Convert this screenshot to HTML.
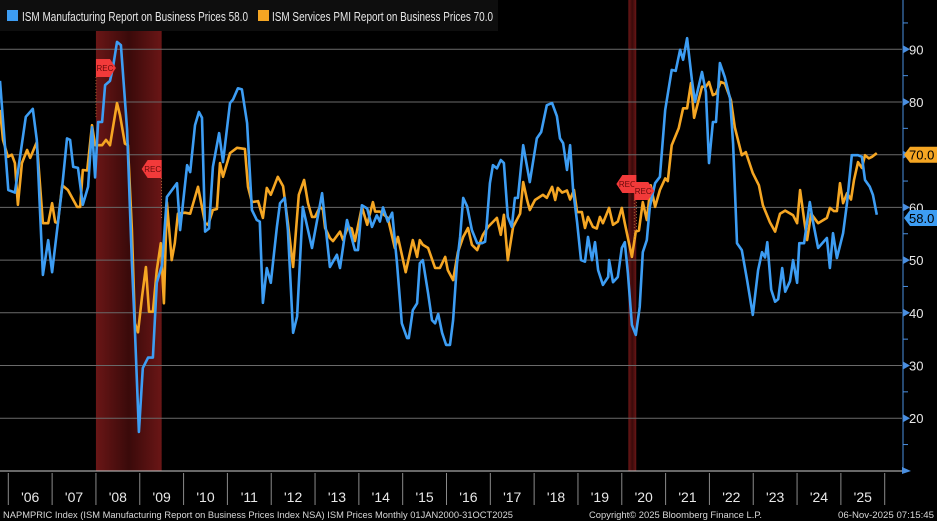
<!DOCTYPE html>
<html><head><meta charset="utf-8"><style>
html,body{margin:0;padding:0;background:#000;width:937px;height:521px;overflow:hidden;font-family:"Liberation Sans",sans-serif}
svg text{font-family:"Liberation Sans",sans-serif}
</style></head><body>
<svg id="chart" width="937" height="521" viewBox="0 0 937 521" xmlns="http://www.w3.org/2000/svg">
<defs>
<linearGradient id="recg" x1="0" x2="1" y1="0" y2="0">
<stop offset="0" stop-color="#6a1616"/><stop offset="0.5" stop-color="#3a0a0a"/><stop offset="1" stop-color="#6a1616"/>
</linearGradient>
</defs>
<g id="rec-layer"></g>
<g id="grid-layer"></g>
<g id="series-layer"></g>
<g id="axis-layer"></g>
<g>
<rect x="0" y="0" width="498" height="31" fill="#0e0e0e"/>
<rect x="7" y="10" width="11" height="11" fill="#3d9df3"/>
<text x="22" y="21" fill="#e8e8e8" font-size="13" textLength="226" lengthAdjust="spacingAndGlyphs">ISM Manufacturing Report on Business Prices 58.0</text>
<rect x="258" y="10" width="11" height="11" fill="#f5a623"/>
<text x="272" y="21" fill="#e8e8e8" font-size="13" textLength="221" lengthAdjust="spacingAndGlyphs">ISM Services PMI Report on Business Prices 70.0</text>
</g>
<text x="3" y="518" fill="#d8d8d8" font-size="9.5" textLength="510" lengthAdjust="spacingAndGlyphs">NAPMPRIC Index (ISM Manufacturing Report on Business Prices Index NSA) ISM Prices Monthly 01JAN2000-31OCT2025</text>
<text x="589" y="518" fill="#d8d8d8" font-size="9.5" textLength="173" lengthAdjust="spacingAndGlyphs">Copyright© 2025 Bloomberg Finance L.P.</text>
<text x="838" y="518" fill="#d8d8d8" font-size="9.5" textLength="96" lengthAdjust="spacingAndGlyphs">06-Nov-2025 07:15:45</text>
</svg>
<script>
const yTicks=[20,30,40,50,60,70,80,90];
const yearLabels=["'06","'07","'08","'09","'10","'11","'12","'13","'14","'15","'16","'17","'18","'19","'20","'21","'22","'23","'24","'25"];
const recessionStarts=[2008.0,2020.15];
const recessionEnds=[2009.5,2020.33];
const mfgDates=[2005.81,2006.0,2006.15,2006.40,2006.56,2006.65,2006.79,2006.91,2007.0,2007.23,2007.34,2007.41,2007.48,2007.59,2007.70,2007.82,2007.91,2007.98,2008.05,2008.14,2008.21,2008.32,2008.39,2008.48,2008.57,2008.71,2008.82,2008.89,2008.98,2009.07,2009.19,2009.30,2009.39,2009.51,2009.62,2009.85,2009.92,2010.08,2010.15,2010.26,2010.35,2010.42,2010.49,2010.58,2010.67,2010.81,2010.90,2011.06,2011.13,2011.24,2011.33,2011.45,2011.56,2011.67,2011.74,2011.81,2011.90,2011.99,2012.13,2012.20,2012.31,2012.38,2012.50,2012.59,2012.72,2012.93,2013.16,2013.34,2013.50,2013.57,2013.73,2013.91,2013.98,2014.07,2014.19,2014.30,2014.41,2014.48,2014.55,2014.66,2014.76,2014.87,2014.98,2015.10,2015.14,2015.23,2015.33,2015.39,2015.46,2015.58,2015.67,2015.74,2015.81,2015.90,2015.99,2016.08,2016.15,2016.24,2016.31,2016.38,2016.47,2016.58,2016.70,2016.81,2016.88,2016.92,2016.99,2017.06,2017.15,2017.24,2017.31,2017.40,2017.49,2017.56,2017.63,2017.75,2017.90,2018.06,2018.16,2018.29,2018.41,2018.52,2018.59,2018.66,2018.75,2018.82,2018.89,2018.98,2019.07,2019.16,2019.23,2019.32,2019.39,2019.46,2019.57,2019.69,2019.71,2019.80,2019.91,2020.00,2020.07,2020.14,2020.23,2020.32,2020.41,2020.48,2020.57,2020.64,2020.76,2020.87,2020.99,2021.14,2021.23,2021.33,2021.40,2021.49,2021.60,2021.67,2021.83,2021.92,2021.99,2022.08,2022.15,2022.24,2022.35,2022.47,2022.54,2022.63,2022.74,2022.86,2022.99,2023.11,2023.20,2023.27,2023.32,2023.41,2023.50,2023.57,2023.66,2023.73,2023.84,2023.91,2024.00,2024.05,2024.16,2024.29,2024.36,2024.48,2024.68,2024.75,2024.82,2024.91,2025.05,2025.14,2025.25,2025.39,2025.48,2025.55,2025.66,2025.73,2025.82];
const mfgValues=[84,63.3,62.8,77.2,78.7,72.8,47.2,53.8,47.7,63.9,73.1,72.8,67.7,67.5,60.5,63.9,75.2,65.7,76.2,76.2,83.2,84,86.6,91.4,90.8,74.7,49.5,36.8,17.4,29.5,31.5,31.5,45.7,49.1,62,64.6,55.7,68,66.7,75.6,78.1,77,55.4,56,67.7,74.1,68.6,79.8,80.5,82.6,82.4,76,59.5,57.6,57.3,41.9,48.5,45.7,56.3,60.8,61.8,55.7,36.2,39.3,60.1,52.3,62.7,48.7,51,48.5,57.6,51.9,51.9,60.4,59.8,56.3,58.5,57.3,60,57.3,59,49.4,38,35.2,35.2,40.5,41.8,49.4,50,43.7,38.6,38,39.8,36.2,33.9,33.9,38.6,49.4,54.4,61.8,60.2,55.7,53.2,53.2,53.5,57,64.6,68,67.4,69,68.4,58.2,56.3,61.8,61.8,71.8,64.8,73.1,74.3,79.4,79.8,77.3,73.1,72.2,67.1,71.8,63.3,57.2,50,49.7,54.4,50,53.4,48.1,45.3,46.8,50,45.8,46.8,52.3,53.4,47.5,37.7,35.8,41.1,51.5,53.8,60.1,64.6,65.8,78.5,86.1,85.9,89.9,88,92.1,84.2,80,85.7,81.9,68.4,76.2,76.2,87.4,84.7,80.7,72.1,53.2,51.9,46.2,39.6,48.1,51.5,50.5,53.4,44.4,42.1,42.6,48.5,44,46,50,45.7,53.2,53.2,61,57.5,52.3,54.2,48.5,55.1,50.4,55.1,60.8,69.9,69.9,69.6,65.2,63.9,62.4,58.6];
const svcDates=[2005.81,2005.88,2005.99,2006.08,2006.15,2006.22,2006.31,2006.43,2006.50,2006.65,2006.79,2006.91,2007.00,2007.07,2007.13,2007.23,2007.36,2007.57,2007.64,2007.70,2007.80,2007.91,2007.98,2008.14,2008.23,2008.32,2008.48,2008.55,2008.66,2008.73,2008.82,2008.89,2008.96,2009.05,2009.14,2009.21,2009.30,2009.39,2009.48,2009.55,2009.62,2009.73,2009.80,2009.87,2010.03,2010.15,2010.33,2010.49,2010.56,2010.67,2010.76,2010.83,2010.90,2011.06,2011.22,2011.40,2011.47,2011.56,2011.70,2011.81,2011.90,2011.99,2012.15,2012.27,2012.38,2012.50,2012.63,2012.75,2012.84,2012.93,2013.00,2013.11,2013.18,2013.23,2013.34,2013.41,2013.57,2013.64,2013.75,2013.84,2013.91,2014.07,2014.19,2014.32,2014.37,2014.48,2014.66,2014.82,2014.89,2015.07,2015.17,2015.23,2015.33,2015.39,2015.46,2015.58,2015.74,2015.85,2015.97,2016.03,2016.15,2016.26,2016.38,2016.49,2016.58,2016.70,2016.83,2016.95,2017.15,2017.24,2017.31,2017.40,2017.52,2017.68,2017.75,2017.84,2017.90,2018.02,2018.20,2018.29,2018.41,2018.48,2018.54,2018.64,2018.75,2018.82,2018.91,2018.98,2019.09,2019.16,2019.23,2019.34,2019.43,2019.50,2019.57,2019.71,2019.80,2019.91,2020.00,2020.07,2020.23,2020.32,2020.39,2020.48,2020.57,2020.66,2020.76,2020.87,2020.99,2021.05,2021.14,2021.30,2021.40,2021.49,2021.58,2021.65,2021.83,2021.92,2021.99,2022.08,2022.15,2022.26,2022.35,2022.49,2022.58,2022.74,2022.83,2022.99,2023.13,2023.22,2023.38,2023.50,2023.61,2023.73,2023.91,2024.00,2024.07,2024.16,2024.23,2024.32,2024.48,2024.68,2024.75,2024.84,2024.91,2024.98,2025.05,2025.14,2025.23,2025.30,2025.39,2025.48,2025.55,2025.64,2025.71,2025.82];
const svcValues=[78.5,72.8,69.6,70,68.4,60.5,68.4,70.9,69.4,72.4,57,57,60.8,57.2,57,64.2,63.3,60.1,60.1,67.1,67,75.6,71.8,71.8,72.8,71.8,79.8,77.5,72.1,71.8,55.7,38,36.3,43,48.7,40.2,40.2,48.1,53.2,41.8,61,50,53.2,58.8,59,58.8,63.9,57,56.7,59.5,59.7,68.4,65.8,70.3,71.3,71.1,63.9,61,61.2,58,63.7,62.4,65.8,64,57,48.7,62.4,65.2,60.8,58.2,58.2,60.1,59.6,56.1,54.2,53.6,55.4,53.8,56.3,56,53.6,60.1,56.7,61,59.2,59.2,58,52.3,54.4,47.7,51.5,53.8,50.6,53.8,52.9,52.3,48.5,48.5,50.6,48.1,46.2,51.5,54.4,56.1,52.9,51.9,54.8,56.3,58,54.8,58.6,50,56.3,58.8,64.8,61.4,59.5,61.4,62.4,61.8,63.9,61.4,63.7,62.8,63.2,61.5,63.3,59.1,59.1,56.1,58.2,56.3,56,58.2,57,59.9,56.7,57.3,59.9,57,50.6,55.4,55.6,61,57.6,64.2,60.1,63.3,65.5,65,71.8,75,78.8,78.8,83.6,77,82.9,82.9,83.8,81.3,81.6,83.8,83.5,80.4,75.2,69.9,70.5,66.5,64.2,60.4,57.2,55.4,58.8,59.4,58.5,57,63.3,57.7,53.8,58.8,57,58,59.9,59.3,59.3,64.6,60.8,62.7,61.5,65.2,68.6,67.5,69.9,69.3,69.6,70.3];

const NS='http://www.w3.org/2000/svg';
const X0=8.3, YW=43.82, PR=902, AXY=471;
function xScale(t){return X0+(t-2006)*YW;}
function yScale(v){return 49.3+(90-v)*5.27;}
function mk(tag,attrs,parent){const e=document.createElementNS(NS,tag);for(const k in attrs)e.setAttribute(k,attrs[k]);parent.appendChild(e);return e;}
const recL=document.getElementById('rec-layer'),gridL=document.getElementById('grid-layer'),serL=document.getElementById('series-layer'),axL=document.getElementById('axis-layer');

recessionStarts.forEach((s,i)=>{
  const r=mk('rect',{x:xScale(s),y:0,width:xScale(recessionEnds[i])-xScale(s),height:AXY,fill:'url(#recg)'},recL);
  
  
});
yTicks.forEach(v=>{
  const l=mk('line',{x1:0,x2:PR,y1:yScale(v),y2:yScale(v),stroke:'#6a6a6a','stroke-width':1},gridL);
  
  
});
function drawLine(dates,vals,color,name){
  const d=dates.map((t,i)=>(i?'L':'M')+xScale(t).toFixed(1)+','+yScale(vals[i]).toFixed(1)).join('');
  const p=mk('path',{d:d,fill:'none',stroke:color,'stroke-width':2.6,'stroke-linejoin':'round'},serL);
  
  
}
drawLine(svcDates,svcValues,'#f5a623','services-prices-line');
drawLine(mfgDates,mfgValues,'#3d9df3','manufacturing-prices-line');

function recTag(x,y,dir){
  const g=mk('g',{},serL);
  
  
  const pts=dir>0?`${x},${y} ${x+14},${y} ${x+20},${y+9} ${x+14},${y+18} ${x},${y+18}`:`${x},${y} ${x-14},${y} ${x-20},${y+9} ${x-14},${y+18} ${x},${y+18}`;
  mk('polygon',{points:pts,fill:'#f23a3a'},g);
  mk('line',{x1:x,x2:x,y1:y+18,y2:y+60,stroke:'#c08040','stroke-width':0.7,'stroke-dasharray':'1,2'},g);
  const t=mk('text',{x:dir>0?x+9:x-9,y:y+12,'font-size':8,fill:'#6a0a0a','text-anchor':'middle'},g);
  t.textContent='REC';
}
recTag(xScale(recessionStarts[0]),59,1);
recTag(xScale(recessionEnds[0]),160,-1);
recTag(xScale(recessionStarts[1])+8,175,-1);
recTag(xScale(recessionEnds[1])-2,182,1);

mk('line',{x1:0,x2:PR,y1:AXY,y2:AXY,stroke:'#cfcfcf','stroke-width':1},axL);
mk('polygon',{points:`${PR},${AXY-4} ${PR+9},${AXY} ${PR},${AXY+3}`,fill:'#4a8fe0'},axL);
for(let i=0;i<=yearLabels.length;i++){
  const x=xScale(2006+i);
  const s=mk('line',{x1:x,x2:x,y1:AXY+2,y2:505,stroke:'#8a8a8a','stroke-width':1},axL);
  
  
}
yearLabels.forEach((lab,i)=>{
  const t=mk('text',{x:xScale(2006.5+i),y:502,fill:'#e8e8e8','font-size':14,'text-anchor':'middle'},axL);
  
  
  t.textContent=lab;
});
mk('line',{x1:PR+1,x2:PR+1,y1:0,y2:AXY,stroke:'#4a8fe0','stroke-width':1},axL);
for(let v=15;v<=95;v+=5){
  const major=yTicks.includes(v);
  if(major){mk('polygon',{points:`${PR+1},${yScale(v)-4} ${PR+8},${yScale(v)} ${PR+1},${yScale(v)+4}`,fill:'#4a8fe0'},axL);}
  else mk('line',{x1:PR+1,x2:PR+6,y1:yScale(v),y2:yScale(v),stroke:'#4a8fe0'},axL);
}
yTicks.forEach(v=>{
  const t=mk('text',{x:909,y:yScale(v)+5,fill:'#e8e8e8','font-size':13},axL);
  
  
  t.textContent=v;
});
function valueTag(v,color,name){
  const y=yScale(v);
  const g=mk('g',{},axL);
  
  
  mk('polygon',{points:`${PR+2},${y} ${PR+8},${y-8} 937,${y-8} 937,${y+8} ${PR+8},${y+8}`,fill:color},g);
  const t=mk('text',{x:909,y:y+5,fill:'#000','font-size':13},g);
  t.textContent=v.toFixed(1);
}
valueTag(svcValues[svcValues.length-1]-0.3,'#f5a623','services-last-value-tag');
valueTag(mfgValues[mfgValues.length-1]-0.6,'#3d9df3','manufacturing-last-value-tag');
</script>
</body></html>
